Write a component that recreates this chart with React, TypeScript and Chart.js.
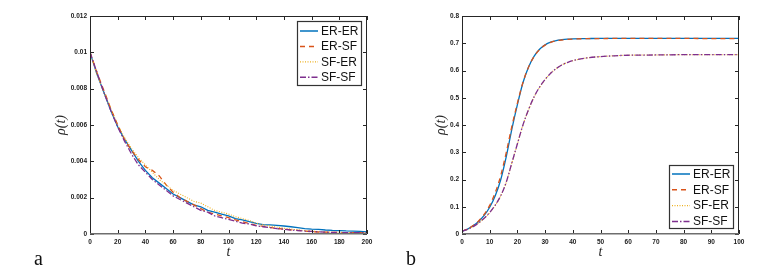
import React, { useEffect, useRef } from 'react';
import { Chart, registerables } from 'chart.js';

Chart.register(...registerables);

const SERIES_NAMES = ['ER-ER', 'ER-SF', 'SF-ER', 'SF-SF'];
const COLORS = ['#0072BD', '#D95319', '#EDB120', '#7E2F8E'];
const DASHES: number[][] = [[], [5, 4], [1, 1.5], [6, 2, 1.5, 2]];
const WIDTHS = [1.3, 1.3, 1.1, 1.3];

// Panel a: rho(t) decaying
const T_A = [0, 5, 10, 15, 20, 25, 30, 35, 40, 45, 50, 55, 60, 65, 70, 75, 80, 85, 90, 95, 100,
  105, 110, 115, 120, 125, 130, 135, 140, 145, 150, 155, 160, 165, 170, 175, 180, 185, 190, 195, 200];
const A_ER_ER = [0.0100, 0.0088, 0.0078, 0.0068, 0.0059, 0.0052, 0.0046, 0.0040, 0.0035, 0.0031, 0.0028,
  0.0025, 0.0022, 0.0020, 0.0018, 0.0016, 0.0015, 0.0013, 0.0012, 0.0011, 0.0010,
  0.00085, 0.00078, 0.00068, 0.00058, 0.00052, 0.00050, 0.00047, 0.00044, 0.00040, 0.00035,
  0.00030, 0.00027, 0.00025, 0.00022, 0.00020, 0.00019, 0.00017, 0.00016, 0.00014, 0.00012];
const A_ER_SF = [0.0100, 0.0089, 0.0079, 0.0069, 0.0060, 0.0052, 0.0046, 0.0041, 0.0037, 0.0035, 0.0032,
  0.0027, 0.0023, 0.0020, 0.0018, 0.0016, 0.0014, 0.0012, 0.0011, 0.0010, 0.0009,
  0.00078, 0.00068, 0.00058, 0.00048, 0.00042, 0.00036, 0.00031, 0.00027, 0.00023, 0.00020,
  0.00016, 0.00013, 0.00011, 0.00010, 0.00009, 0.00008, 0.00008, 0.00007, 0.00007, 0.00006];
const A_SF_ER = [0.0100, 0.0088, 0.0078, 0.0069, 0.0060, 0.0053, 0.0047, 0.0042, 0.0038, 0.0034, 0.0030,
  0.0027, 0.0024, 0.0022, 0.0020, 0.0018, 0.0017, 0.0015, 0.0013, 0.0012, 0.0011,
  0.00095, 0.00085, 0.00075, 0.00060, 0.00050, 0.00044, 0.00038, 0.00032, 0.00027, 0.00023,
  0.00019, 0.00016, 0.00013, 0.00011, 0.00010, 0.00009, 0.00008, 0.00007, 0.00006, 0.00005];
const A_SF_SF = [0.0100, 0.0089, 0.0078, 0.0068, 0.0059, 0.0051, 0.0044, 0.0038, 0.0034, 0.0030, 0.0027,
  0.0024, 0.0021, 0.0019, 0.0017, 0.0015, 0.0013, 0.0012, 0.0010, 0.0009, 0.0008,
  0.0007, 0.0006, 0.00055, 0.00045, 0.00040, 0.00035, 0.00030, 0.00026, 0.00022, 0.00019,
  0.00016, 0.00014, 0.00012, 0.00010, 0.00009, 0.00008, 0.00008, 0.00007, 0.00007, 0.00006];
const X_TICKS_A = ['0', '20', '40', '60', '80', '100', '120', '140', '160', '180', '200'];
const Y_TICKS_A = ['0', '0.002', '0.004', '0.006', '0.008', '0.01', '0.012'];

// Panel b: rho(t) growing
const T_B = [0, 2, 4, 6, 8, 10, 12, 14, 16, 18, 20, 22, 24, 26, 28, 30, 32, 34, 36, 38, 40,
  45, 50, 55, 60, 70, 80, 90, 100];
const B_ER_ER = [0.010, 0.018, 0.030, 0.046, 0.068, 0.098, 0.140, 0.200, 0.285, 0.385, 0.475,
  0.555, 0.612, 0.652, 0.678, 0.694, 0.704, 0.710, 0.713, 0.715, 0.716,
  0.717, 0.718, 0.718, 0.718, 0.718, 0.718, 0.718, 0.718];
const B_ER_SF = [0.010, 0.019, 0.031, 0.048, 0.072, 0.105, 0.152, 0.215, 0.300, 0.395, 0.480,
  0.556, 0.612, 0.651, 0.677, 0.693, 0.703, 0.709, 0.712, 0.714, 0.715,
  0.717, 0.717, 0.718, 0.718, 0.718, 0.718, 0.717, 0.717];
const B_SF_ER = [0.010, 0.017, 0.027, 0.040, 0.057, 0.078, 0.105, 0.140, 0.190, 0.260, 0.330,
  0.400, 0.455, 0.502, 0.538, 0.566, 0.590, 0.607, 0.620, 0.629, 0.636,
  0.646, 0.651, 0.654, 0.656, 0.657, 0.658, 0.658, 0.658];
const B_SF_SF = [0.010, 0.017, 0.027, 0.041, 0.058, 0.079, 0.106, 0.141, 0.191, 0.261, 0.331,
  0.400, 0.456, 0.503, 0.539, 0.567, 0.590, 0.607, 0.620, 0.629, 0.636,
  0.646, 0.651, 0.654, 0.656, 0.657, 0.658, 0.658, 0.658];
const X_TICKS_B = ['0', '10', '20', '30', '40', '50', '60', '70', '80', '90', '100'];
const Y_TICKS_B = ['0', '0.1', '0.2', '0.3', '0.4', '0.5', '0.6', '0.7', '0.8'];

const AXIS_TITLE_Y = 'ρ(t)';
const AXIS_TITLE_X = 't';

const INK = '#262626';

const framePlugin = {
  id: 'frame',
  afterDatasetsDraw(chart: any) {
    const { ctx, chartArea: a, scales } = chart;
    const tl = 4;
    ctx.save();
    ctx.strokeStyle = INK;
    ctx.lineWidth = 1;
    ctx.setLineDash([]);
    ctx.beginPath();
    scales.x.ticks.forEach((t: any) => {
      const px = Math.round(scales.x.getPixelForValue(t.value)) + 0.5;
      ctx.moveTo(px, a.bottom); ctx.lineTo(px, a.bottom - tl);
      ctx.moveTo(px, a.top); ctx.lineTo(px, a.top + tl);
    });
    scales.y.ticks.forEach((t: any) => {
      const py = Math.round(scales.y.getPixelForValue(t.value)) + 0.5;
      ctx.moveTo(a.left, py); ctx.lineTo(a.left + tl, py);
      ctx.moveTo(a.right, py); ctx.lineTo(a.right - tl, py);
    });
    ctx.stroke();
    ctx.strokeRect(a.left + 0.5, a.top + 0.5, a.right - a.left - 1, a.bottom - a.top - 1);
    ctx.strokeStyle = '#6e6e6e';
    ctx.lineWidth = 1.5;
    ctx.beginPath();
    ctx.moveTo(a.left, a.bottom - 0.25); ctx.lineTo(a.right, a.bottom - 0.25);
    ctx.stroke();
    ctx.restore();
  },
};

const boxLegendPlugin = {
  id: 'boxLegend',
  afterDraw(chart: any, _args: any, opts: any) {
    const { ctx, chartArea: a } = chart;
    const w = opts.width, h = opts.height;
    const left = a.right - opts.marginRight - w;
    const top = opts.anchor === 'top' ? a.top + opts.marginY : a.bottom - opts.marginY - h;
    ctx.save();
    ctx.fillStyle = '#ffffff';
    ctx.fillRect(left, top, w, h);
    ctx.strokeStyle = '#333333';
    ctx.lineWidth = 1.2;
    ctx.setLineDash([]);
    ctx.strokeRect(left + 0.5, top + 0.5, w - 1, h - 1);
    chart.data.datasets.forEach((ds: any, i: number) => {
      const y = top + opts.firstRow + i * opts.rowStep;
      ctx.strokeStyle = ds.borderColor;
      ctx.lineWidth = ds.borderWidth + 0.2;
      ctx.setLineDash(ds.borderDash || []);
      ctx.beginPath();
      ctx.moveTo(left + 3, y);
      ctx.lineTo(left + 21, y);
      ctx.stroke();
      ctx.setLineDash([]);
      ctx.fillStyle = '#111111';
      ctx.font = '12px "Liberation Sans", Arial, sans-serif';
      ctx.textBaseline = 'middle';
      ctx.textAlign = 'left';
      ctx.fillText(ds.label, left + 24, y + 0.5);
    });
    ctx.restore();
  },
};

function makeConfig(
  t: number[], series: number[][], xTicks: string[], yTicks: string[],
  pad: { left: number; right: number }, yWidth: number, smooth: boolean, legend: any,
) {
  const xMin = Number(xTicks[0]);
  const xMax = Number(xTicks[xTicks.length - 1]);
  const yMin = Number(yTicks[0]);
  const yMax = Number(yTicks[yTicks.length - 1]);
  const tickFont = { family: '"Liberation Sans", Arial, sans-serif', size: 6.5, weight: 'bold' as const };
  const titleFont = { family: '"Liberation Serif", "Times New Roman", serif', size: 14, style: 'italic' as const };
  return {
    type: 'line' as const,
    data: {
      datasets: SERIES_NAMES.map((name, i) => ({
        label: name,
        data: t.map((tv, j) => ({ x: tv, y: series[i][j] })),
        borderColor: COLORS[i],
        backgroundColor: COLORS[i],
        borderWidth: WIDTHS[i],
        borderDash: DASHES[i],
        pointRadius: 0,
        fill: false,
        tension: 0,
        cubicInterpolationMode: smooth ? ('monotone' as const) : ('default' as const),
        order: 3 - i,
      })),
    },
    options: {
      responsive: false,
      animation: false as const,
      events: [],
      layout: { padding: { left: pad.left, top: 16, right: pad.right, bottom: 17 } },
      plugins: {
        legend: { display: false },
        tooltip: { enabled: false },
        boxLegend: legend,
      },
      scales: {
        x: {
          type: 'linear' as const,
          min: xMin,
          max: xMax,
          afterBuildTicks: (s: any) => { s.ticks = xTicks.map((v) => ({ value: Number(v) })); },
          afterFit: (s: any) => { s.height = 27; },
          grid: { display: false, drawTicks: false },
          border: { display: false },
          ticks: {
            autoSkip: false, maxRotation: 0, padding: 4, color: '#1a1a1a', font: tickFont,
            callback: (_v: any, i: number) => xTicks[i],
          },
          title: { display: true, text: AXIS_TITLE_X, font: titleFont, color: INK, padding: 0 },
        },
        y: {
          type: 'linear' as const,
          min: yMin,
          max: yMax,
          afterBuildTicks: (s: any) => { s.ticks = yTicks.map((v) => ({ value: Number(v) })); },
          afterFit: (s: any) => { s.width = yWidth; },
          grid: { display: false, drawTicks: false },
          border: { display: false },
          ticks: {
            autoSkip: false, padding: 3, color: '#1a1a1a', font: tickFont,
            callback: (_v: any, i: number) => yTicks[i],
          },
          title: { display: true, text: AXIS_TITLE_Y, font: titleFont, color: INK, padding: 0 },
        },
      },
    },
    plugins: [framePlugin, boxLegendPlugin],
  };
}

export default function App() {
  const refA = useRef<HTMLCanvasElement>(null);
  const refB = useRef<HTMLCanvasElement>(null);

  useEffect(() => {
    const chartA = new Chart(refA.current as HTMLCanvasElement, makeConfig(
      T_A, [A_ER_ER, A_ER_SF, A_SF_ER, A_SF_SF], X_TICKS_A, Y_TICKS_A,
      { left: 53, right: 24 }, 37, false,
      { anchor: 'top', marginRight: 5, marginY: 5, width: 65, height: 65, firstRow: 10, rowStep: 15.4 },
    ) as any);
    const chartB = new Chart(refB.current as HTMLCanvasElement, makeConfig(
      T_B, [B_ER_ER, B_ER_SF, B_SF_ER, B_SF_SF], X_TICKS_B, Y_TICKS_B,
      { left: 42, right: 43 }, 29, true,
      { anchor: 'bottom', marginRight: 5, marginY: 5, width: 65, height: 64, firstRow: 9, rowStep: 15.8 },
    ) as any);
    return () => { chartA.destroy(); chartB.destroy(); };
  }, []);

  const panelLabel: React.CSSProperties = {
    position: 'absolute',
    fontFamily: '"Liberation Serif", "Times New Roman", serif',
    fontSize: 20,
    lineHeight: '20px',
    color: '#111',
  };

  return (
    <div style={{ position: 'fixed', left: 0, top: 0, width: 782, height: 278, background: '#fff', overflow: 'hidden' }}>
      <canvas ref={refA} width={391} height={278} style={{ position: 'absolute', left: 0, top: 0, width: 391, height: 278 }} />
      <canvas ref={refB} width={391} height={278} style={{ position: 'absolute', left: 391, top: 0, width: 391, height: 278 }} />
      <div style={{ ...panelLabel, left: 34, top: 248 }}>a</div>
      <div style={{ ...panelLabel, left: 406, top: 248 }}>b</div>
    </div>
  );
}
